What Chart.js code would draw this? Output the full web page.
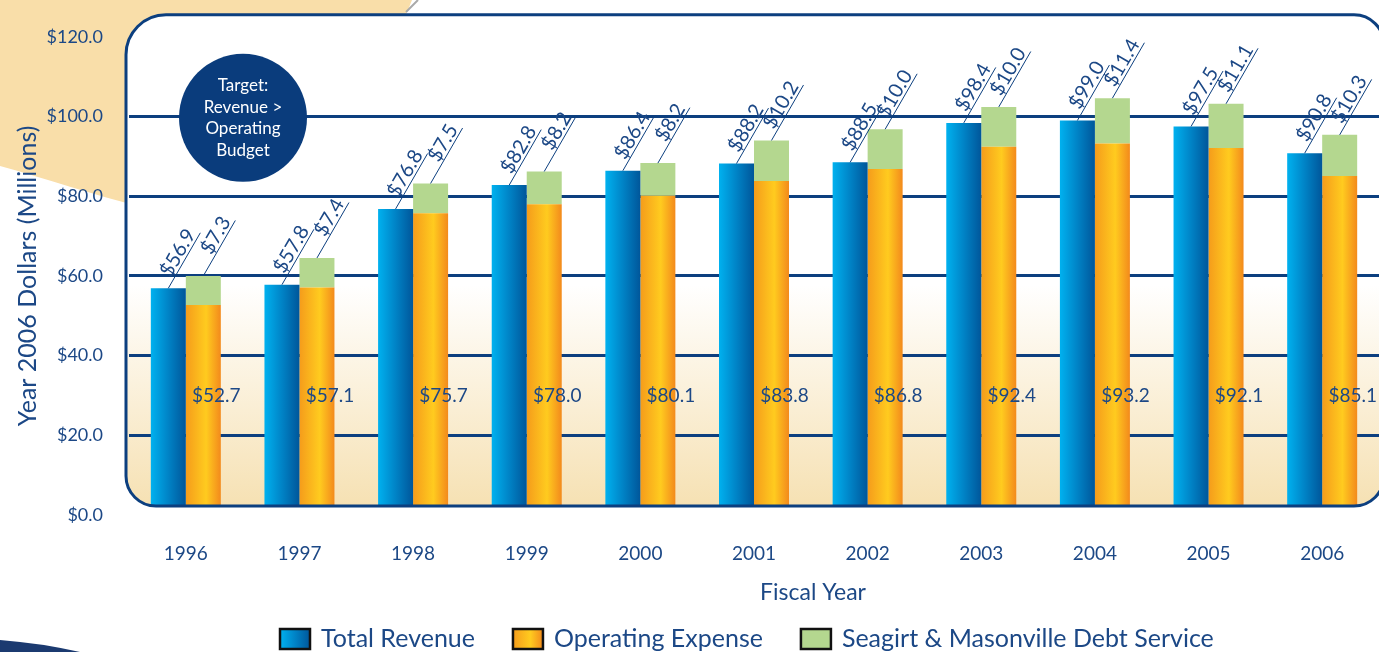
<!DOCTYPE html>
<html>
<head>
<meta charset="utf-8">
<title>Revenue vs Operating Expense</title>
<script src="https://cdn.jsdelivr.net/npm/chart.js@4.4.1/dist/chart.umd.min.js"></script>
<style>
  html, body { margin: 0; padding: 0; background: #fff; overflow: hidden; }
  canvas { display: block; }
</style>
</head>
<body>
<canvas id="revenueChart" width="1379" height="652"></canvas>
<script>
// fiscal years, values in millions of year 2006 dollars
const years = ['1996', '1997', '1998', '1999', '2000', '2001', '2002', '2003', '2004', '2005', '2006'];
const totalRevenue = [56.9, 57.8, 76.8, 82.8, 86.4, 88.2, 88.5, 98.4, 99.0, 97.5, 90.8];
const operatingExpense = [52.7, 57.1, 75.7, 78.0, 80.1, 83.8, 86.8, 92.4, 93.2, 92.1, 85.1];
const debtService = [7.3, 7.4, 7.5, 8.2, 8.2, 10.2, 10.0, 10.0, 11.4, 11.1, 10.3];
const yMin = 0, yMax = 120, yStep = 20;

const NAVY = '#0c3f7f';
const TEXT = '#1c4886';
const CAT_PCT = 0.616;
const REV_STOPS = [[0, '#00b1ef'], [0.5, '#0083c6'], [1, '#00569a']];
const OPS_STOPS = [[0, '#f59c1b'], [0.58, '#ffcb1f'], [1, '#f38a1c']];
const DEBT_COLOR = '#b4d78f';

Chart.defaults.font.family = "Lato, 'Noto Sans', sans-serif";
Chart.defaults.color = TEXT;

const money = v => '$' + Number(v).toFixed(1);

// horizontal gradient over one bar (side -1 = left bar of group, 1 = right bar)
function barFill(stops, side) {
  return function (c) {
    const chart = c.chart;
    if (!chart.chartArea || c.type !== 'data') return stops[1][1];
    const xs = chart.scales.x;
    const center = xs.getPixelForValue(c.dataIndex);
    const half = (xs.width / years.length) * CAT_PCT / 2;
    const x0 = side < 0 ? center - half : center;
    const g = chart.ctx.createLinearGradient(x0, 0, x0 + half, 0);
    stops.forEach(s => g.addColorStop(s[0], s[1]));
    return g;
  };
}

function legendFill(ctx, stops, x, w) {
  if (typeof stops === 'string') return stops;
  const g = ctx.createLinearGradient(x, 0, x + w, 0);
  stops.forEach(s => g.addColorStop(s[0], s[1]));
  return g;
}

function panelPath(ctx, l, t, r, b, rad) {
  ctx.beginPath();
  ctx.moveTo(l + rad[0], t);
  ctx.lineTo(r - rad[1], t);
  ctx.arcTo(r, t, r, t + rad[1], rad[1]);
  ctx.lineTo(r, b - rad[2]);
  ctx.arcTo(r, b, r - rad[2], b, rad[2]);
  ctx.lineTo(l + rad[3], b);
  ctx.arcTo(l, b, l, b - rad[3], rad[3]);
  ctx.lineTo(l, t + rad[0]);
  ctx.arcTo(l, t, l + rad[0], t, rad[0]);
  ctx.closePath();
}

function panelBox(area) {
  return { l: area.left - 3, t: area.top - 22, r: area.right + 5, b: area.bottom - 9 };
}

const backdrop = {
  id: 'backdrop',
  beforeDraw(chart) {
    const { ctx, chartArea } = chart;
    const p = panelBox(chartArea);
    ctx.save();
    // cream blob behind the top-left corner
    ctx.fillStyle = '#f9dea9';
    ctx.beginPath();
    ctx.moveTo(0, 0);
    ctx.lineTo(0, 166);
    ctx.bezierCurveTo(45, 178, 95, 196, 140, 206);
    ctx.bezierCurveTo(300, 190, 385, 70, 412, 0);
    ctx.closePath();
    ctx.fill();
    ctx.strokeStyle = '#a9a9a9';
    ctx.lineWidth = 2;
    ctx.beginPath();
    ctx.moveTo(406, 12);
    ctx.lineTo(418, 0);
    ctx.stroke();
    // navy swoosh bottom-left
    ctx.fillStyle = '#1b3a70';
    ctx.beginPath();
    ctx.moveTo(0, 640);
    ctx.quadraticCurveTo(40, 643, 80, 652);
    ctx.lineTo(0, 652);
    ctx.closePath();
    ctx.fill();
    // panel fill
    const g = ctx.createLinearGradient(0, p.t, 0, p.b);
    g.addColorStop(0, '#ffffff');
    g.addColorStop(0.55, '#ffffff');
    g.addColorStop(1, '#f6e1b3');
    ctx.fillStyle = g;
    panelPath(ctx, p.l, p.t, p.r, p.b, [40, 30, 30, 30]);
    ctx.fill();
    ctx.restore();
  },
  afterDatasetsDraw(chart) {
    const { ctx, chartArea } = chart;
    const p = panelBox(chartArea);
    ctx.save();
    ctx.strokeStyle = NAVY;
    ctx.lineWidth = 3;
    panelPath(ctx, p.l, p.t, p.r, p.b, [40, 30, 30, 30]);
    ctx.stroke();
    // target badge
    const cx = chartArea.left + 114, cy = chartArea.top + 81;
    ctx.fillStyle = '#0a3c7c';
    ctx.beginPath();
    ctx.arc(cx, cy, 64, 0, Math.PI * 2);
    ctx.fill();
    ctx.fillStyle = '#ffffff';
    ctx.font = "17px Lato, 'Noto Sans', sans-serif";
    ctx.textAlign = 'center';
    ctx.textBaseline = 'middle';
    ['Target:', 'Revenue >', 'Operating', 'Budget'].forEach((s, i) => {
      ctx.fillText(s, cx, cy - 32 + i * 21.5);
    });
    ctx.restore();
  }
};

// value labels: slanted leader lines for revenue and debt, flat text for operating
function slanted(ctx, x, y, text) {
  const L = 64, a = Math.PI / 3;
  const tx = x + L * Math.cos(a), ty = y - L * Math.sin(a);
  ctx.beginPath();
  ctx.moveTo(x, y);
  ctx.lineTo(tx, ty);
  ctx.stroke();
  ctx.save();
  ctx.translate(tx, ty);
  ctx.rotate(-a);
  ctx.textAlign = 'right';
  ctx.textBaseline = 'alphabetic';
  ctx.fillText(text, -3, -3);
  ctx.restore();
}

const valueLabels = {
  id: 'valueLabels',
  afterDatasetsDraw(chart) {
    const { ctx } = chart;
    const rev = chart.getDatasetMeta(0).data;
    const ops = chart.getDatasetMeta(1).data;
    const debt = chart.getDatasetMeta(2).data;
    const ys = chart.scales.y;
    ctx.save();
    ctx.strokeStyle = NAVY;
    ctx.lineWidth = 1;
    ctx.fillStyle = TEXT;
    ctx.font = "20px Lato, 'Noto Sans', sans-serif";
    years.forEach((_, i) => {
      slanted(ctx, rev[i].x, rev[i].y, money(totalRevenue[i]));
      slanted(ctx, debt[i].x, debt[i].y, money(debtService[i]));
    });
    ctx.font = "19px Lato, 'Noto Sans', sans-serif";
    ctx.textAlign = 'center';
    ctx.textBaseline = 'middle';
    years.forEach((_, i) => {
      ctx.fillText(money(operatingExpense[i]), ops[i].x + 13, ys.getPixelForValue(30));
    });
    ctx.restore();
  }
};

const legendAndTitle = {
  id: 'legendAndTitle',
  afterDraw(chart) {
    const { ctx } = chart;
    ctx.save();
    ctx.fillStyle = TEXT;
    ctx.font = "23px Lato, 'Noto Sans', sans-serif";
    ctx.textAlign = 'center';
    ctx.textBaseline = 'middle';
    ctx.fillText('Fiscal Year', 813, 593);

    const items = [
      ['Total Revenue', REV_STOPS],
      ['Operating Expense', OPS_STOPS],
      ['Seagirt & Masonville Debt Service', DEBT_COLOR]
    ];
    ctx.font = "25px Lato, 'Noto Sans', sans-serif";
    ctx.textAlign = 'left';
    ctx.textBaseline = 'middle';
    let x = 280;
    const y = 639;
    items.forEach(([label, fill]) => {
      ctx.fillStyle = legendFill(ctx, fill, x, 30);
      ctx.fillRect(x, y - 10, 30, 20);
      ctx.strokeStyle = '#111';
      ctx.lineWidth = 2.5;
      ctx.strokeRect(x, y - 10, 30, 20);
      ctx.fillStyle = TEXT;
      ctx.fillText(label, x + 41, y);
      x += 41 + ctx.measureText(label).width + 38;
    });
    ctx.restore();
  }
};

new Chart(document.getElementById('revenueChart'), {
  type: 'bar',
  data: {
    labels: years,
    datasets: [
      { label: 'Total Revenue', data: totalRevenue, stack: 'revenue', backgroundColor: barFill(REV_STOPS, -1) },
      { label: 'Operating Expense', data: operatingExpense, stack: 'expense', backgroundColor: barFill(OPS_STOPS, 1) },
      { label: 'Seagirt & Masonville Debt Service', data: debtService, stack: 'expense', backgroundColor: DEBT_COLOR }
    ]
  },
  options: {
    responsive: false,
    animation: false,
    categoryPercentage: CAT_PCT,
    barPercentage: 1,
    clip: { left: false, top: false, right: false, bottom: -10 },
    layout: { padding: { top: 35, right: 0, bottom: 0, left: 0 } },
    plugins: {
      legend: { display: false },
      tooltip: { enabled: false }
    },
    scales: {
      x: {
        stacked: true,
        grid: { display: false },
        border: { display: false },
        ticks: { padding: 19, font: { size: 19 }, color: TEXT },
        afterFit: s => { s.height = 137; }
      },
      y: {
        stacked: true,
        min: yMin,
        max: yMax,
        border: { display: false },
        grid: {
          color: c => (c.tick.value > yMin && c.tick.value < yMax ? NAVY : 'rgba(0,0,0,0)'),
          lineWidth: 3,
          drawTicks: false
        },
        ticks: { stepSize: yStep, padding: 26, font: { size: 18 }, color: TEXT, callback: v => money(v) },
        title: {
          display: true,
          text: 'Year 2006 Dollars (Millions)',
          font: { size: 25 },
          color: TEXT,
          padding: { top: 13, bottom: 0 }
        },
        afterFit: s => { s.width = 129; }
      }
    }
  },
  plugins: [backdrop, valueLabels, legendAndTitle]
});
</script>
</body>
</html>
